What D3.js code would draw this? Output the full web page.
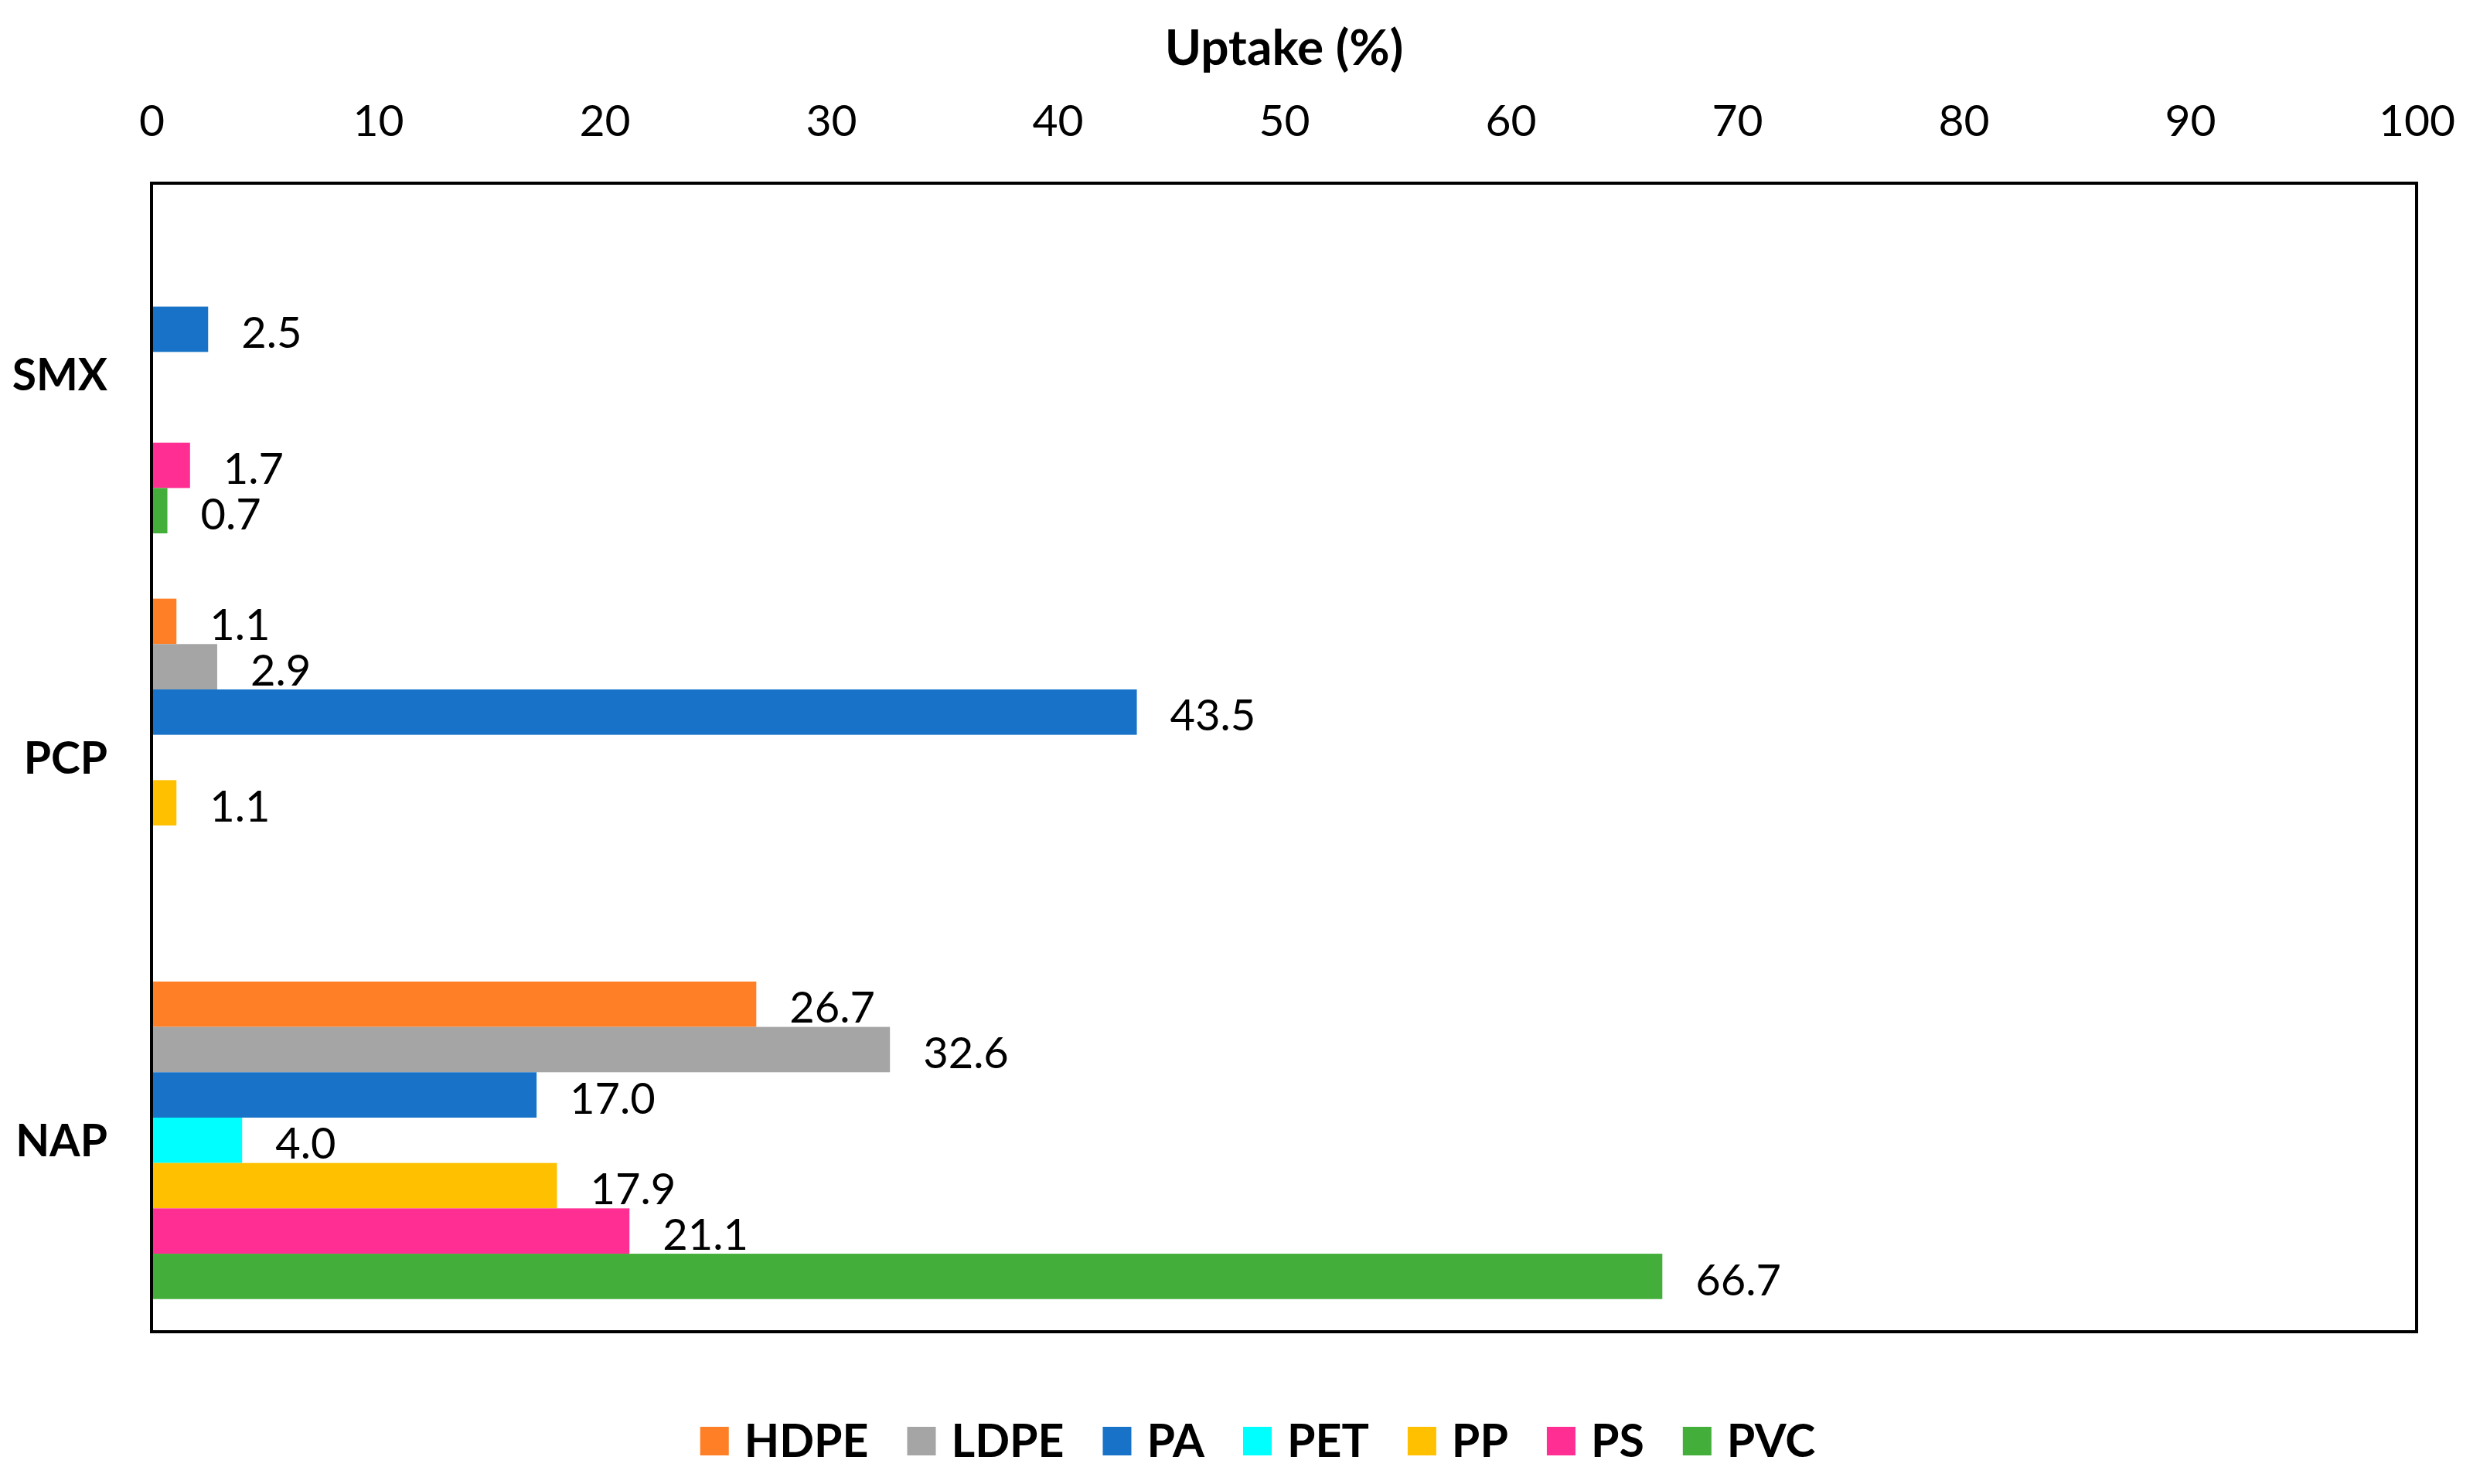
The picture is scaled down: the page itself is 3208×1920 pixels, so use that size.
<!DOCTYPE html>
<head>
<meta charset="utf-8">
<title>Uptake</title>
<script src="https://cdnjs.cloudflare.com/ajax/libs/d3/7.8.5/d3.min.js"></script>
<style>
body { margin: 0; background: #fff; }
text { font-family: Lato, "Open Sans", sans-serif; fill: #000; }
</style>
</head>
<body>
<script>
// compounds, top to bottom
var compounds = ["SMX", "PCP", "NAP"];
// polymers, in legend / bar order
var polymers = ["HDPE", "LDPE", "PA", "PET", "PP", "PS", "PVC"];
var colors = ["#FE7F25", "#A5A5A5", "#1873C8", "#00FFFF", "#FFC000", "#FF2E93", "#44AE3B"];
// uptake (%) per polymer, one array per compound
var smx = [0, 0, 2.5, 0, 0, 1.7, 0.7];
var pcp = [1.1, 2.9, 43.5, 0, 1.1, 0, 0];
var nap = [26.7, 32.6, 17.0, 4.0, 17.9, 21.1, 66.7];
var xTicks = [0, 10, 20, 30, 40, 50, 60, 70, 80, 90, 100];

var values = { SMX: smx, PCP: pcp, NAP: nap };

var W = 3208, H = 1920;
var pLeft = 196, pRight = 3126, pTop = 237, pBottom = 1723;

var svg = d3.select("body").append("svg")
    .attr("width", W)
    .attr("height", H);

var x = d3.scaleLinear().domain([0, 100]).range([pLeft, pRight]);
var y = d3.scaleBand().domain(compounds).range([pTop, pBottom]);
var yIn = d3.scaleBand().domain(polymers).range([0, y.bandwidth()]).paddingOuter(0.72);
var color = d3.scaleOrdinal().domain(polymers).range(colors);

var rows = [];
compounds.forEach(function(c){
	polymers.forEach(function(p, i){
		rows.push({ c: c, p: p, v: values[c][i] });
	});
});

// bars
svg.selectAll(".bar")
	.data(rows.filter(function(d){ return d.v > 0; }))
	.enter().append("rect")
	.attr("class", "bar")
	.attr("x", x(0))
	.attr("y", function(d){ return y(d.c) + yIn(d.p); })
	.attr("width", function(d){ return x(d.v) - x(0); })
	.attr("height", yIn.bandwidth())
	.style("fill", function(d){ return color(d.p); });

// value labels
svg.selectAll(".lbl")
	.data(rows.filter(function(d){ return d.v > 0; }))
	.enter().append("text")
	.attr("class", "lbl")
	.attr("x", function(d){ return x(d.v) + 43; })
	.attr("y", function(d){ return y(d.c) + yIn(d.p) + yIn.bandwidth() / 2 + 4; })
	.attr("dy", "0.36em")
	.style("font-size", "56px")
	.text(function(d){ return d3.format(".1f")(d.v); });

// frame
svg.append("rect")
	.attr("x", pLeft).attr("y", pTop)
	.attr("width", pRight - pLeft).attr("height", pBottom - pTop)
	.style("fill", "none")
	.style("stroke", "#000")
	.style("stroke-width", 4);

// top axis
var xAxis = svg.append("g")
	.attr("transform", "translate(0," + (pTop - 82) + ")")
	.call(d3.axisTop(x).tickValues(xTicks).tickSize(0).tickPadding(0));
xAxis.select(".domain").remove();
xAxis.selectAll("text")
	.attr("dy", "0.36em")
	.style("font-family", "Lato, sans-serif")
	.style("font-size", "57px");

svg.append("text")
	.attr("x", (pLeft + pRight) / 2)
	.attr("y", 61)
	.attr("dy", "0.36em")
	.attr("text-anchor", "middle")
	.style("font-size", "64px")
	.style("font-weight", "bold")
	.text("Uptake (%)");

// category labels
var yAxis = svg.append("g")
	.attr("transform", "translate(139,0)")
	.call(d3.axisLeft(y).tickSize(0).tickPadding(0));
yAxis.select(".domain").remove();
yAxis.selectAll("text")
	.attr("dy", "0.36em")
	.style("font-family", "Lato, sans-serif")
	.style("font-size", "57px")
	.style("font-weight", "bold");

// legend
var legend = svg.append("g");
var lx = 0;
polymers.forEach(function(p){
	var g = legend.append("g").attr("transform", "translate(" + lx + ",0)");
	g.append("rect")
		.attr("x", 0).attr("y", -18)
		.attr("width", 37).attr("height", 37)
		.style("fill", color(p));
	var t = g.append("text")
		.attr("x", 57).attr("y", 0)
		.attr("dy", "0.36em")
		.style("font-size", "59px")
		.style("font-weight", "bold")
		.text(p);
	lx += 57 + t.node().getComputedTextLength() + 50;
});
lx -= 50;
legend.attr("transform", "translate(" + (1627 - lx / 2) + ",1864)");
</script>
</body>
